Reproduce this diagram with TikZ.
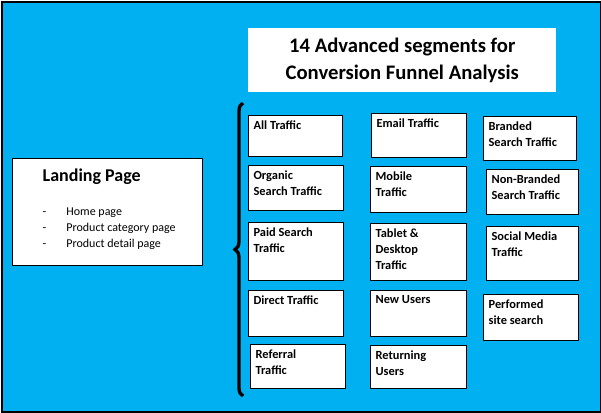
\documentclass[tikz,border=0pt]{standalone}
\usepackage{fontspec}
\setmainfont{Carlito}
\usetikzlibrary{decorations.pathreplacing}
\definecolor{skyblue}{RGB}{0,176,240}

\newcommand{\segbox}[6]{%
  \node (#1) [segframe, minimum width={#4*0.75pt}, minimum height={#5*0.75pt}] at (#2,#3) {};
  \node (#1t) [segtext] at (#1.north west) {#6};}

\begin{document}
\begin{tikzpicture}[x=0.75pt, y=-0.75pt,
  segframe/.style={draw, fill=white, anchor=north west, line width=0.6pt, inner sep=0pt},
  segtext/.style={anchor=north west, align=left, font=\bfseries\fontsize{9.3}{12}\selectfont, inner xsep=4pt, inner ysep=4pt}]
  \useasboundingbox (0,0) rectangle (601,412);
  % Background
  \node (bg) [draw, line width=1.5pt, fill=skyblue, anchor=north west, minimum width={599*0.75pt}, minimum height={410*0.75pt}, inner sep=0pt] at (1,1) {};

  % Title
  \node (title) [fill=white, anchor=north west, minimum width={308*0.75pt}, minimum height={64*0.75pt}, align=center, font=\bfseries\fontsize{15.5}{20}\selectfont] at (248,28) {14 Advanced segments for\\Conversion Funnel Analysis};

  % Landing page
  \node (landing) [segframe, minimum width={190*0.75pt}, minimum height={107*0.75pt}] at (12,158) {};
  \node (landingt) [anchor=north west, font=\bfseries\fontsize{13.5}{16}\selectfont] at (38,164) {Landing Page};
  \node (landingl) [anchor=north west, align=left, font=\fontsize{9}{12.2}\selectfont] at (38,203)
    {-\hspace{15pt}Home page\\-\hspace{15pt}Product category page\\-\hspace{15pt}Product detail page};

  % Brace
  \coordinate (bracelow) at (243,396);
  \coordinate (bracehigh) at (243,103);
  \draw [line width=2.5pt, decorate, decoration={brace, amplitude=6pt}] (bracelow) -- (bracehigh);

  % Segments
  \segbox{all}{248}{115}{94}{41}{All Traffic}
  \segbox{organic}{248}{165}{95}{45}{Organic\\Search Traffic}
  \segbox{paid}{248}{222}{95}{58}{Paid Search\\Traffic}
  \segbox{direct}{248}{290}{95}{46}{Direct Traffic}
  \segbox{referral}{250}{344}{95}{44}{Referral\\Traffic}
  \segbox{email}{371}{113}{95}{44}{Email Traffic}
  \segbox{mobile}{370}{166}{96}{46}{Mobile\\Traffic}
  \segbox{tablet}{370}{223}{96}{57}{Tablet \&\\Desktop\\Traffic}
  \segbox{newusers}{370}{290}{96}{46}{New Users}
  \segbox{returning}{370}{345}{96}{43}{Returning\\Users}
  \segbox{branded}{483}{116}{93}{44}{Branded\\Search Traffic}
  \segbox{nonbranded}{486}{169}{92}{45}{Non-Branded\\Search Traffic}
  \segbox{social}{486}{226}{92}{54}{Social Media\\Traffic}
  \segbox{performed}{483}{294}{95}{46}{Performed\\site search}
\end{tikzpicture}
\end{document}
